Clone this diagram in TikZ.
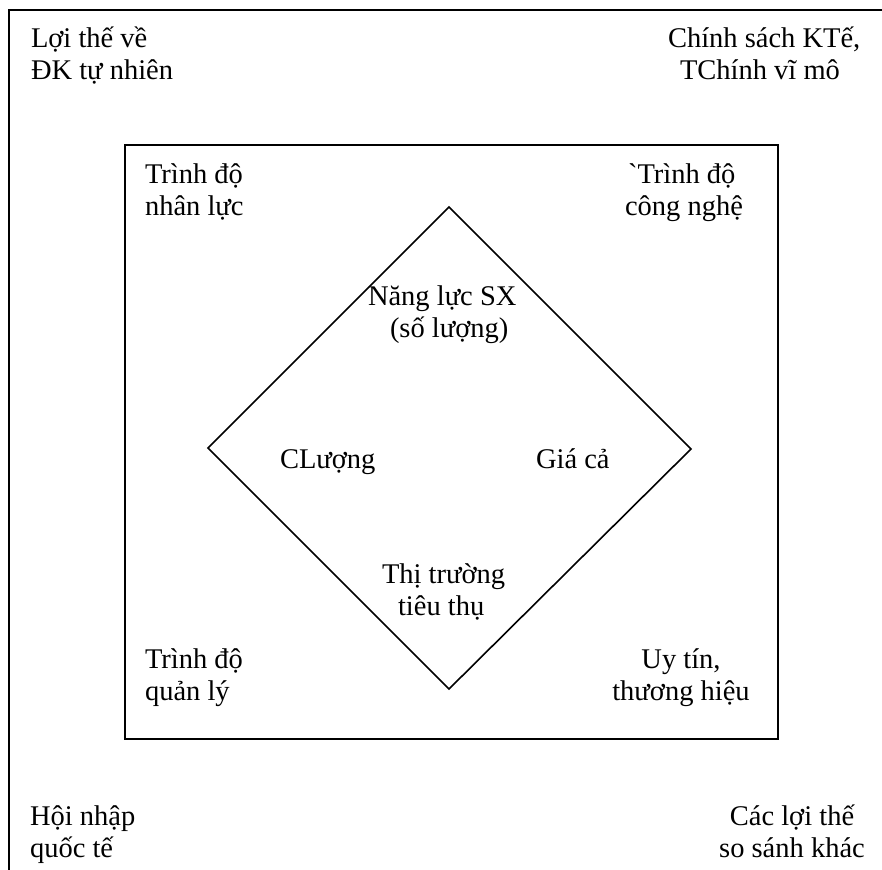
\documentclass[tikz,border=0pt]{standalone}
\usepackage{fontspec}
\setmainfont{Liberation Serif}
% same face without the TeX quote mapping, for a plain grave mark
\newfontfamily\rawserif{Liberation Serif}[Ligatures=ResetAll]
% two-line label whose baseline is the first line's baseline
\newcommand\twoline[3]{\begin{tabular}[t]{@{}#1@{}}#2\\#3\end{tabular}}
\begin{document}
\begin{tikzpicture}[x=1pt,y=-1pt,
  lbl/.style={inner sep=0pt, outer sep=0pt, font=\fontsize{28.5}{32}\selectfont},
  lw/.style={anchor=base west, lbl},
  lc/.style={anchor=base, lbl},
  frame/.style={line width=2pt, line cap=rect},
  box/.style={line width=1.8pt},
  rhomb/.style={line width=1.6pt, line join=miter}]
\useasboundingbox (0,0) rectangle (882,869);

% outer frame (open at the right and bottom)
\draw[frame] (9,875) -- (9,10) -- (890,10);

% inner box
\draw[box] (125,145) rectangle (778,739);

% central diamond
\draw[rhomb] (449,207) -- (691,449) -- (449,689) -- (208,448) -- cycle;

% outer factors
\node[lw] (adv)    at (31,48)  {\twoline{l}{Lợi thế về}{ĐK tự nhiên}};
\node[lw] (policy) at (668,48) {\twoline{l}{Chính sách KTế,}{\hspace*{12pt}TChính vĩ mô}};
\node[lw] (integ)  at (30,825) {\twoline{l}{Hội nhập}{quốc tế}};
\node[lc] (other)  at (792,825) {\twoline{c}{Các lợi thế}{so sánh khác}};

% inner factors
\node[lw] (hr)    at (145,183) {\twoline{l}{Trình độ}{nhân lực}};
\node[lw] (tech)  at (625,183) {\twoline{l}{\hspace*{3pt}{\rawserif\char96}Trình độ}{công nghệ}};
\node[lw] (mgmt)  at (145,668) {\twoline{l}{Trình độ}{quản lý}};
\node[lc] (brand) at (681,668) {\twoline{c}{Uy tín,}{thương hiệu}};

% diamond labels
\node[lw] (cap)   at (368,305) {\twoline{l}{Năng lực SX}{\hspace*{22pt}(số lượng)}};
\node[lw] (qual)  at (280,468) {CLượng};
\node[lw] (price) at (536,468) {Giá cả};
\node[lw] (mkt)   at (382,583) {\twoline{l}{Thị trường}{\hspace*{16pt}tiêu thụ}};
\end{tikzpicture}
\end{document}
